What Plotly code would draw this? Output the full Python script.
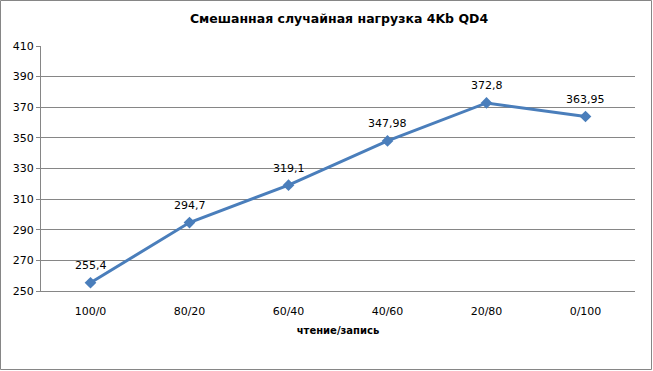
import plotly.graph_objects as go

categories = ["100/0", "80/20", "60/40", "40/60", "20/80", "0/100"]
values = [255.4, 294.7, 319.1, 347.98, 372.8, 363.95]
labels = ["255,4", "294,7", "319,1", "347,98", "372,8", "363,95"]
y_ticks = [250, 270, 290, 310, 330, 350, 370, 390, 410]

title_text = "Смешанная случайная нагрузка 4Kb QD4"
x_title = "чтение/запись"

W, H = 653, 371
ml, mr, mt, mb = 41, 18, 46, 80
pw, ph = W - ml - mr, H - mt - mb

font = "DejaVu Sans"
grid = "#868686"

fig = go.Figure()
fig.add_trace(go.Scatter(
    x=categories, y=values, mode="lines+markers",
    line=dict(color="#4A7EBB", width=3),
    marker=dict(symbol="diamond", size=9, color="#4A7EBB"),
    cliponaxis=False, showlegend=False,
))

annotations = [
    dict(x=c, y=v, text=t, showarrow=False, xref="x", yref="y",
         yanchor="middle", yshift=17, font=dict(family=font, size=11, color="#000000"))
    for c, v, t in zip(categories, values, labels)
]

fig.update_layout(
    width=W, height=H,
    margin=dict(l=ml, r=mr, t=mt, b=mb),
    paper_bgcolor="white", plot_bgcolor="white",
    font=dict(family=font, size=11, color="#000000"),
    title=dict(text="<b>" + title_text + "</b>", x=(ml + pw / 2 + 1) / W, xanchor="center",
               y=1 - 19 / H, yanchor="middle", font=dict(family=font, size=12.5)),
    xaxis=dict(
        type="category", range=[-0.5, 5.5], showgrid=False, showline=True,
        linecolor=grid, linewidth=1,
        ticks="", tickfont=dict(size=11), ticklabelstandoff=10,
        title=dict(text="<b>" + x_title + "</b>", font=dict(size=10), standoff=9),
    ),
    yaxis=dict(
        range=[250, 410], tickvals=y_ticks, showgrid=True, gridcolor=grid, gridwidth=1,
        showline=True, linecolor=grid, linewidth=1, ticks="outside", ticklen=4,
        tickcolor=grid, tickfont=dict(size=11), zeroline=False,
    ),
    annotations=annotations,
    shapes=[dict(type="rect", xref="paper", yref="paper",
                 x0=(-ml + 0.5) / pw, x1=1 + (mr - 1.5) / pw,
                 y0=-(mb - 1.5) / ph, y1=1 + (mt - 0.5) / ph,
                 line=dict(color="#868686", width=1))],
)

fig.write_html("out.html")
